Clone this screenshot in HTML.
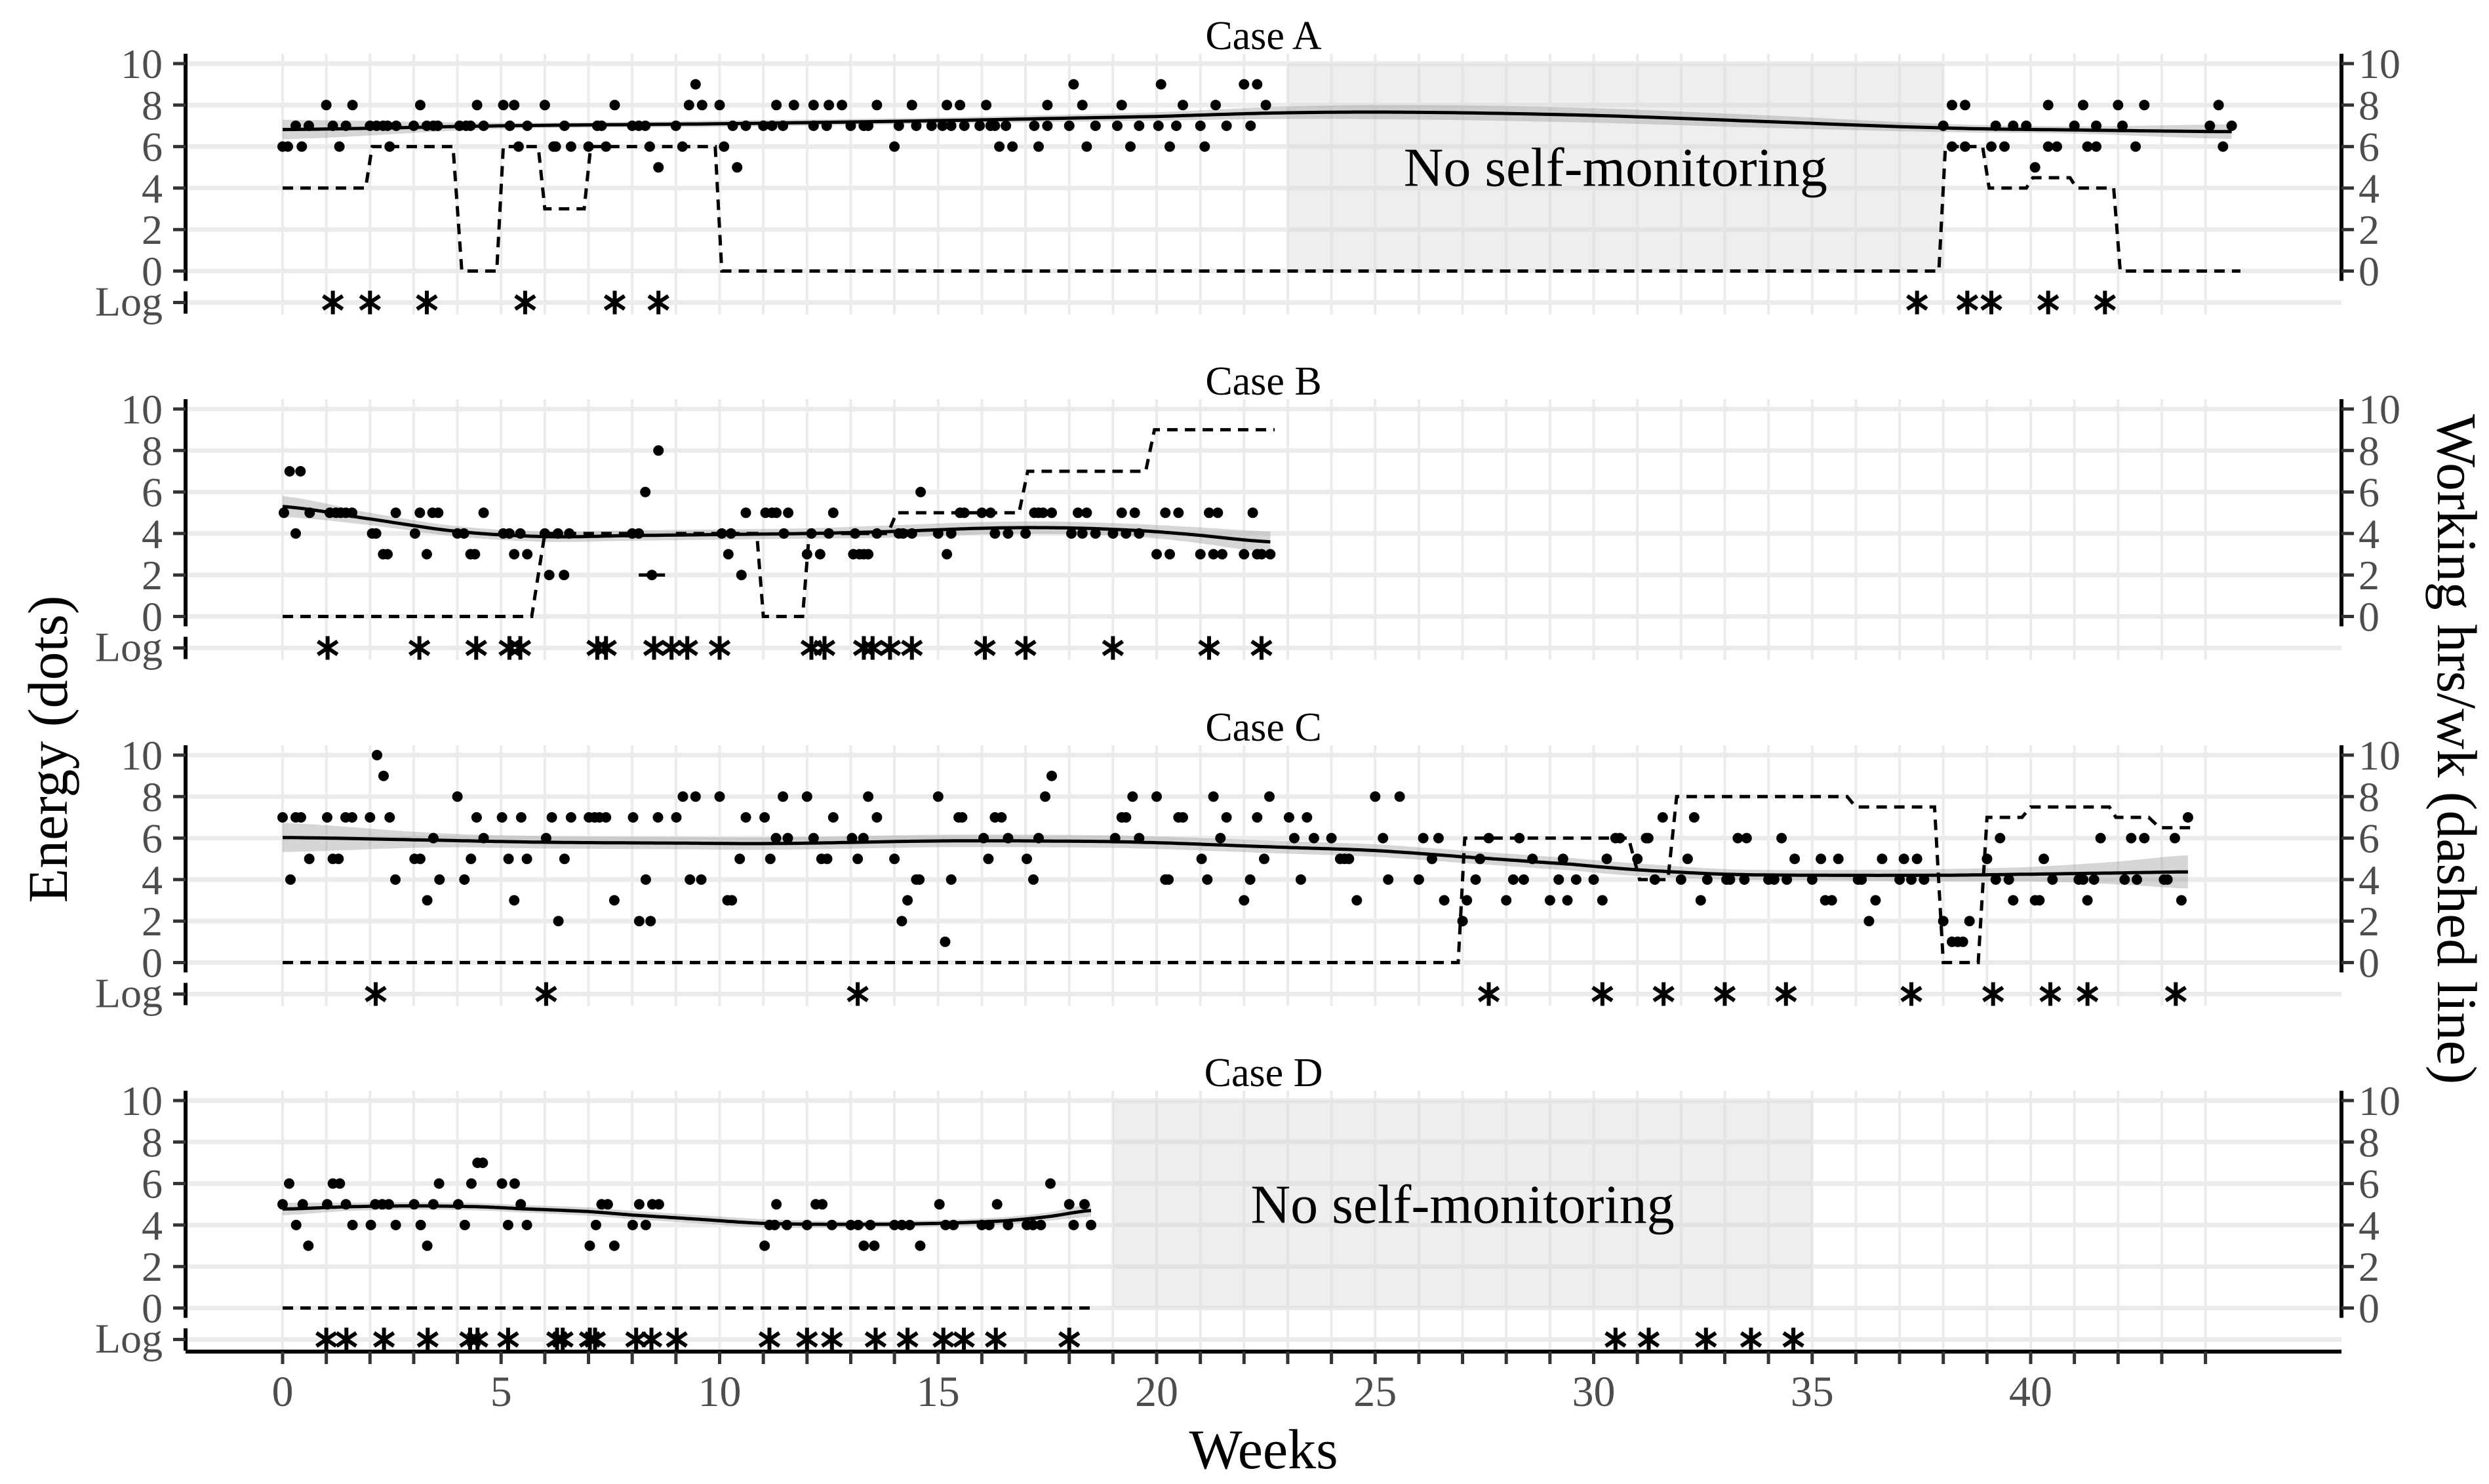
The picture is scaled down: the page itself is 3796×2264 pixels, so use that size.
<!DOCTYPE html>
<html><head><meta charset="utf-8"><style>
html,body{margin:0;padding:0;background:#fff;}
svg{display:block;font-family:"Liberation Serif",serif;}
</style></head><body>
<svg id="chart" width="3796" height="2264" viewBox="0 0 3796 2264" xmlns="http://www.w3.org/2000/svg"></svg>
<script>
// ---------- data ----------
const panelNames=["Case A","Case B","Case C","Case D"];
const yTicks=[0,2,4,6,8,10];
const xTickLabels=[0,5,10,15,20,25,30,35,40];
// energy dots: [energy, week, week, ...]
const energyA=[
[6,0,0.12,0.44,1.3,2.45,5.4,6.2,6.25,6.6,7.0,7.4,8.4,9.15,10.1,14.0,16.4,16.7,17.3,18.4,19.4,20.3,21.1,38.2,38.5,39.1,39.4,40.4,40.6,41.3,41.5,42.4,44.4],
[7,0.3,0.6,1.15,1.45,2.0,2.15,2.3,2.4,2.6,3.0,3.3,3.45,3.55,4.05,4.2,4.3,4.6,5.2,5.6,6.45,7.2,7.3,8.0,8.15,8.3,9.0,10.3,10.6,11.0,11.2,11.45,12.15,12.45,13.0,13.3,13.4,14.1,14.5,14.85,15.1,15.3,15.6,15.95,16.2,16.3,16.55,17.2,17.5,18.0,18.6,19.1,19.6,20.04,20.45,21.0,21.6,22.15,38.0,39.2,39.6,39.9,41.0,41.5,42.1,44.1,44.6],
[8,1.0,1.6,3.15,4.45,5.05,5.3,6.0,7.6,9.3,9.6,10.0,11.3,11.7,12.15,12.5,12.8,13.6,14.4,15.2,15.5,16.1,17.5,18.3,19.2,20.6,21.35,22.5,38.2,38.5,40.4,41.2,42.0,42.6,44.3],
[9,9.45,18.1,20.1,22.0,22.3],
[5,8.6,10.4,40.1]];
const energyB=[
[7,0.16,0.41],
[5,0.03,0.62,1.08,1.22,1.33,1.45,1.59,2.59,3.14,3.43,3.56,4.6,10.6,11.05,11.2,11.3,11.57,12.6,15.5,15.6,16.0,16.2,17.2,17.3,17.4,17.6,18.2,18.4,19.2,19.5,20.2,20.5,21.2,21.4,22.2],
[4,0.3,2.05,2.14,3.03,4.0,4.15,5.05,5.19,5.44,6.0,6.3,6.56,8.0,8.15,10.05,10.26,11.47,12.1,12.5,13.1,13.6,14.1,14.2,14.4,15.0,15.3,16.3,16.6,17.0,18.05,18.3,18.6,19.0,19.3,19.6],
[6,8.3,14.6],[8,8.6],
[3,2.3,2.4,3.3,4.3,4.4,5.3,5.6,10.2,12.0,12.3,13.06,13.2,13.3,13.4,15.2,20.0,20.3,21.0,21.3,21.5,22.0,22.3,22.4,22.6],
[2,6.1,6.44,8.45,10.5]];
const energyC=[
[10,2.16],[9,2.31,17.6],
[8,4.0,9.16,9.45,10.0,11.45,12.0,13.4,15.0,17.45,19.45,20.0,21.3,22.58,25.0,25.56],
[7,0,0.3,0.42,1.02,1.44,1.59,2.0,2.45,4.44,5.02,5.46,6.16,6.6,7.01,7.14,7.25,7.4,8.02,8.59,9.01,10.6,11.03,12.6,13.6,15.47,15.55,16.3,16.45,19.2,19.3,20.5,20.6,21.6,22.3,23.03,23.44,31.58,32.3,43.6],
[6,3.45,4.6,6.03,11.29,11.56,12.15,13.03,13.29,16.04,16.6,17.3,19.05,19.6,21.46,23.15,23.6,24.0,25.18,26.1,26.45,27.6,28.3,30.5,30.6,31.2,31.25,33.3,33.5,34.3,39.3,41.6,42.3,42.6,43.3],
[5,0.61,1.15,1.28,3.02,3.15,4.31,5.17,5.59,6.45,10.46,11.16,12.33,12.46,13.16,14.0,16.15,17.03,21.03,22.46,24.2,24.3,24.4,26.3,27.4,28.6,29.3,30.3,31.0,32.15,34.6,35.2,35.6,36.6,37.1,37.4,39.0,40.3],
[4,0.18,2.58,3.59,4.16,8.31,9.32,9.58,14.5,14.57,15.3,17.18,20.2,20.27,21.16,22.14,23.3,25.3,26.0,27.3,28.16,28.4,29.2,29.6,30.0,31.4,32.0,32.6,33.04,33.12,33.45,34.0,34.13,34.42,35.0,36.05,36.13,37.0,37.27,37.56,39.2,39.5,40.5,41.1,41.2,41.45,42.15,42.43,43.05,43.13],
[3,3.31,5.3,7.59,10.18,10.28,14.3,22.0,24.58,26.58,27.1,28.0,29.0,29.4,30.2,32.45,35.3,35.45,36.45,39.6,40.1,40.2,41.3,43.45],
[2,6.31,8.16,8.42,14.17,27.0,36.3,38.0,38.6],
[1,15.16,38.2,38.33,38.45]];
const energyD=[
[7,4.46,4.58],
[6,0.15,1.15,1.31,3.58,4.32,5.02,5.31,17.57],
[5,0,0.46,1.02,1.45,2.12,2.28,2.43,3.01,3.45,4.02,5.45,7.3,7.44,8.16,8.46,8.61,11.3,12.2,12.35,15.03,16.35,18.0,18.35],
[4,0.31,1.6,2.02,2.59,3.16,4.17,5.16,5.59,7.17,8.01,8.31,11.14,11.26,11.54,12.0,12.57,13.0,13.17,13.45,14.0,14.17,14.35,15.17,15.35,16.0,16.17,16.6,17.03,17.17,17.35,18.1,18.5],
[3,0.59,3.31,7.03,7.59,11.03,13.3,13.54,14.59]];
// log entries (weeks)
const logA=[1.15,2.0,3.3,5.55,7.6,8.6,37.4,38.55,39.1,40.4,41.7];
const logB=[1.03,3.13,4.43,5.19,5.44,7.2,7.4,8.5,8.9,9.26,10.0,12.1,12.4,13.3,13.5,13.9,14.4,16.07,17.0,19.0,21.2,22.4];
const logC=[2.13,6.03,13.16,27.6,30.2,31.6,33.0,34.4,37.27,39.14,40.45,41.3,43.32];
const logD=[1.0,1.46,2.32,3.32,4.29,4.46,5.16,6.28,6.41,7.03,7.15,8.09,8.44,9.02,11.14,12.0,12.57,13.57,14.3,15.12,15.59,16.32,18.0,30.5,31.26,32.57,33.6,34.57];
// working hours steps
const hoursAStart=[0,2.05,4.1,5.05,6.0,7.05,10.05,38.05,39.05,40.05,41.05,42.05];
const hoursAEnd=[1.9,3.9,4.9,5.85,6.9,9.9,37.9,38.9,39.9,40.9,41.9,44.8];
const hoursAVal=[4,6,0,6,3,6,0,6,4,4.5,4,0];
const hoursAJoin=[0,1,1,1,1,1,1,1,1,1,1,1];
const hoursBStart=[0,6.0,8.15,9.0,11.0,12.05,14.05,17.05,19.95];
const hoursBEnd=[5.7,7.9,8.75,10.85,11.9,13.85,16.85,19.75,22.7];
const hoursBVal=[0,4,2,4,0,4,5,7,9];
const hoursBJoin=[0,1,0,0,1,1,1,1,1];
const hoursCStart=[0,27.05,31.05,31.9,36.0,38.0,39.0,40.0,41.95,42.95];
const hoursCEnd=[26.9,30.8,31.7,35.8,37.8,38.8,39.8,41.8,42.7,43.7];
const hoursCVal=[0,6,4,8,7.5,0,7,7.5,7,6.5];
const hoursCJoin=[0,1,1,1,1,1,1,1,1,1];
const hoursDStart=[0];
const hoursDEnd=[18.5];
const hoursDVal=[0];
const hoursDJoin=[0];
// smooth trends
const trendAWeeks=[0,5,10,15,20,23,26,30,34,38,41,44.6];
const trendAVals=[6.82,7.0,7.1,7.25,7.45,7.63,7.65,7.5,7.2,6.9,6.8,6.72];
const trendASe=[0.47,0.15,0.15,0.15,0.2,0.3,0.35,0.35,0.3,0.2,0.18,0.35];
const trendBWeeks=[0,2,4,6,8,10,12,14,16,17.5,19,20.5,22.6];
const trendBVals=[5.3,4.7,4.1,3.85,3.9,3.95,4.0,4.1,4.25,4.28,4.2,4.0,3.6];
const trendBSe=[0.5,0.3,0.25,0.25,0.25,0.25,0.25,0.3,0.3,0.3,0.3,0.35,0.5];
const trendCWeeks=[0,3.5,6,9,11.3,15,17.3,19.6,22.6,25,27,29.5,31,33,35,38,40,42,43.6];
const trendCVals=[6.03,5.9,5.8,5.76,5.74,5.86,5.86,5.8,5.58,5.4,5.1,4.74,4.47,4.26,4.21,4.21,4.26,4.32,4.37];
const trendCSe=[0.7,0.35,0.3,0.3,0.3,0.3,0.3,0.3,0.3,0.3,0.3,0.3,0.3,0.25,0.25,0.3,0.35,0.55,0.8];
const trendDWeeks=[0,1.5,3,4.5,5.5,7,8,9.5,11,13,15,16.5,17.5,18.5];
const trendDVals=[4.77,4.88,4.92,4.88,4.78,4.65,4.48,4.28,4.08,4.03,4.08,4.2,4.4,4.7];
const trendDSe=[0.3,0.2,0.18,0.18,0.18,0.2,0.2,0.2,0.2,0.15,0.15,0.18,0.2,0.3];
// no self-monitoring periods
const gapStart=[23,null,null,19];
const gapEnd=[38,null,null,35];

// ---------- layout ----------
const NS="http://www.w3.org/2000/svg";
const svg=document.getElementById('chart');
const X0=431, PXW=66.65, AXL=283, AXR=3571;
const panelTop=[97,624,1152,1679], SPAN=316.5;
function xs(w){return X0+w*PXW;}
function ys(p,v){return panelTop[p]+SPAN-v*SPAN/10;}
function logY(p){return panelTop[p]+SPAN+48;}
function el(tag,attrs,parent){const e=document.createElementNS(NS,tag);for(const k in attrs)e.setAttribute(k,attrs[k]);(parent||svg).appendChild(e);return e;}
function txt(s,attrs,parent){const e=el('text',attrs,parent);e.textContent=s;return e;}
function interp(xsA,vs,ses){ // Catmull-Rom dense sampling
  const out=[];const n=xsA.length;
  for(let i=0;i<n-1;i++){
    const i0=Math.max(0,i-1),i3=Math.min(n-1,i+2);
    for(let s=0;s<20;s++){const t=s/20,t2=t*t,t3=t2*t;
      const f=(a)=>0.5*((2*a[i])+(-a[i0]+a[i+1])*t+(2*a[i0]-5*a[i]+4*a[i+1]-a[i3])*t2+(-a[i0]+3*a[i]-3*a[i+1]+a[i3])*t3);
      out.push([xsA[i]+(xsA[i+1]-xsA[i])*t,f(vs),f(ses)]);}
  }
  out.push([xsA[n-1],vs[n-1],ses[n-1]]);return out;
}

const energy=[energyA,energyB,energyC,energyD];
const logs=[logA,logB,logC,logD];
const hS=[hoursAStart,hoursBStart,hoursCStart,hoursDStart],hE=[hoursAEnd,hoursBEnd,hoursCEnd,hoursDEnd],hV=[hoursAVal,hoursBVal,hoursCVal,hoursDVal],hJ=[hoursAJoin,hoursBJoin,hoursCJoin,hoursDJoin];
const tW=[trendAWeeks,trendBWeeks,trendCWeeks,trendDWeeks],tV=[trendAVals,trendBVals,trendCVals,trendDVals],tS=[trendASe,trendBSe,trendCSe,trendDSe];
const letters=['a','b','c','d'];

for(let p=0;p<4;p++){
  const g=el('g',{});
  
  
  const top=panelTop[p], zero=ys(p,0), ly=logY(p);
  for(let w=0;w<=44;w++){
    const l=el('line',{x1:xs(w),x2:xs(w),y1:top-15,y2:ly+18,stroke:'#ebebeb','stroke-width':4},g);
    
    
  }
  for(const v of yTicks){
    const l=el('line',{x1:AXL,x2:AXR,y1:ys(p,v),y2:ys(p,v),stroke:'#ebebeb','stroke-width':7},g);
    
    
  }
  const lg=el('line',{x1:AXL,x2:AXR,y1:ly,y2:ly,stroke:'#ebebeb','stroke-width':7},g);
  
  
  if(gapStart[p]!==null){
    const r=el('rect',{x:xs(gapStart[p]),y:top,width:xs(gapEnd[p])-xs(gapStart[p]),height:SPAN,fill:'#d9d9d9','fill-opacity':0.45},g);
    
    
    const t=txt('No self-monitoring',{x:(xs(gapStart[p])+xs(gapEnd[p]))/2,y:ys(p,4.1),'font-size':84,'text-anchor':'middle',fill:'#000'},g);
    
    
  }
  const pts=interp(tW[p],tV[p],tS[p]);
  let d='';pts.forEach((q,i)=>{d+=(i?'L':'M')+xs(q[0]).toFixed(1)+','+ys(p,q[1]+q[2]).toFixed(1);});
  for(let i=pts.length-1;i>=0;i--){const q=pts[i];d+='L'+xs(q[0]).toFixed(1)+','+ys(p,q[1]-q[2]).toFixed(1);}
  const rib=el('path',{d:d+'Z',fill:'#999','fill-opacity':0.4},g);
  
  
  let hd='';
  for(let i=0;i<hS[p].length;i++){
    hd+=(hJ[p][i]&&i>0?'L':'M')+xs(hS[p][i]).toFixed(1)+','+ys(p,hV[p][i]).toFixed(1)+'L'+xs(hE[p][i]).toFixed(1)+','+ys(p,hV[p][i]).toFixed(1);
  }
  const hl=el('path',{d:hd,fill:'none',stroke:'#000','stroke-width':5,'stroke-dasharray':'16 11'},g);
  
  
  for(const row of energy[p]){
    for(let k=1;k<row.length;k++){
      const c=el('circle',{cx:xs(row[k]).toFixed(1),cy:ys(p,row[0]).toFixed(1),r:8,fill:'#000'},g);
      
      
    }
  }
  let td='';pts.forEach((q,i)=>{td+=(i?'L':'M')+xs(q[0]).toFixed(1)+','+ys(p,q[1]).toFixed(1);});
  const tl=el('path',{d:td,fill:'none',stroke:'#000','stroke-width':5},g);
  
  
  for(const w of logs[p]){
    const cx=xs(w);
    const st=el('path',{d:`M${cx},${ly-18}L${cx},${ly+18}M${cx-15},${ly-10}L${cx+15},${ly+10}M${cx-15},${ly+10}L${cx+15},${ly-10}`,stroke:'#000','stroke-width':6,fill:'none'},g);
    
    
  }
  const la=el('line',{x1:AXL,x2:AXL,y1:top-15,y2:zero+15,stroke:'#000','stroke-width':6},g);
  
  
  const lla=el('line',{x1:AXL,x2:AXL,y1:ly-17,y2:ly+17,stroke:'#000','stroke-width':6},g);
  
  
  const ra=el('line',{x1:AXR,x2:AXR,y1:top-15,y2:zero+15,stroke:'#000','stroke-width':6},g);
  
  
  for(const v of yTicks){
    const y=ys(p,v);
    el('line',{x1:264,x2:AXL,y1:y,y2:y,stroke:'#333','stroke-width':5},g);
    const t=txt(String(v),{x:248,y:y+22,'font-size':64,'text-anchor':'end',fill:'#4d4d4d'},g);
    
    
    el('line',{x1:AXR,x2:AXR+19,y1:y,y2:y,stroke:'#333','stroke-width':5},g);
    const t2=txt(String(v),{x:3597,y:y+22,'font-size':64,'text-anchor':'start',fill:'#4d4d4d'},g);
    
    
  }
  el('line',{x1:264,x2:AXL,y1:ly,y2:ly,stroke:'#333','stroke-width':5},g);
  const lt=txt('Log',{x:248,y:ly+20,'font-size':64,'text-anchor':'end',fill:'#4d4d4d'},g);
  
  
  const tt=txt(panelNames[p],{x:1927,y:top-22,'font-size':62,'text-anchor':'middle',fill:'#000'},g);
  
  
}
const by=2062;
const ba=el('line',{x1:AXL,x2:AXR,y1:by,y2:by,stroke:'#000','stroke-width':6});


for(let w=0;w<=44;w++){el('line',{x1:xs(w),x2:xs(w),y1:by,y2:by+19,stroke:'#333','stroke-width':5});}
for(const v of xTickLabels){
  const t=txt(String(v),{x:xs(v),y:2145,'font-size':66,'text-anchor':'middle',fill:'#4d4d4d'});
  
  
}
const xt=txt('Weeks',{x:1927,y:2240,'font-size':86,'text-anchor':'middle',fill:'#000'});


const yt=txt('Energy (dots)',{x:0,y:0,'font-size':86,'text-anchor':'middle',fill:'#000',transform:'translate(102,1143) rotate(-90)'});


const yt2=txt('Working hrs/wk (dashed line)',{x:0,y:0,'font-size':86,'text-anchor':'middle',fill:'#000',transform:'translate(3718,1143) rotate(90)'});


</script>
</body></html>
